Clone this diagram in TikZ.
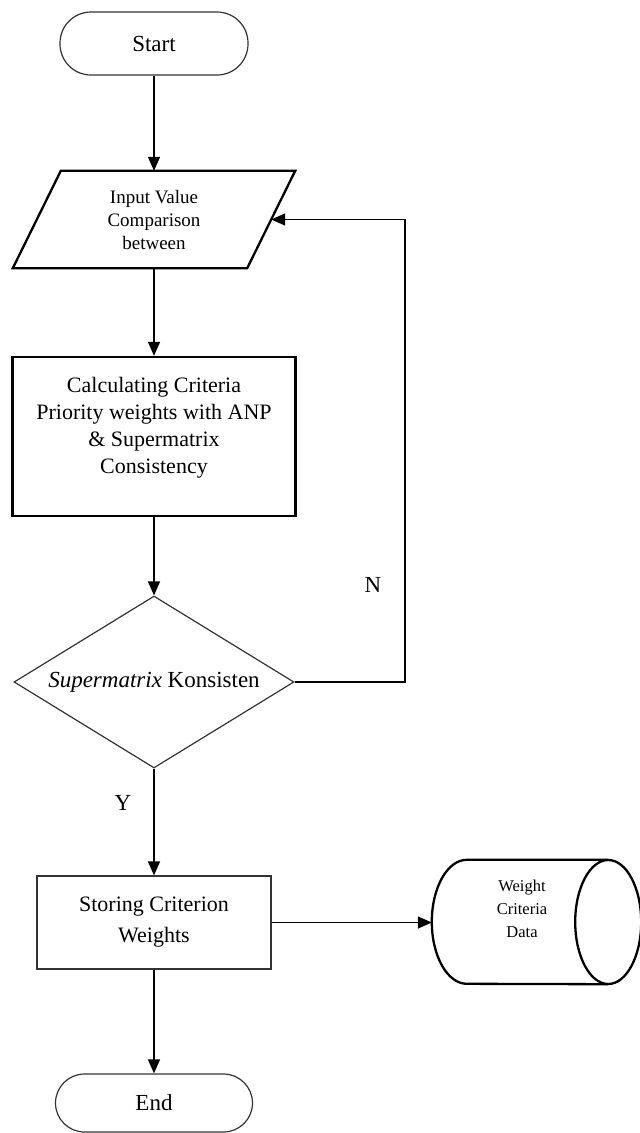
\documentclass[tikz,border=0pt]{standalone}
\usepackage{fontspec}
\setmainfont{Liberation Serif}
\usetikzlibrary{shapes.geometric,arrows.meta,calc}
\begin{document}
\begin{tikzpicture}[x=1pt,y=-1pt,
  thinbox/.style={draw=black!80, line width=1.2pt, fill=white},
  thickbox/.style={draw=black, line width=2.3pt},
  flow/.style={-{Triangle[length=14pt,width=12pt]}, line width=1.4pt},
  lbl/.style={font=\fontsize{23}{27}\selectfont}
]
\useasboundingbox (0,0) rectangle (640,1133);

\node (start) [thinbox, rounded corners=31pt, minimum width=188pt, minimum height=63pt, lbl] at (154,43.5) {Start};

\node (input) [minimum width=234pt, minimum height=97pt, inner sep=0pt, align=center, font=\fontsize{19}{23}\selectfont] at (154,219.5) {Input Value\\Comparison\\between};
\draw[thickbox] ($(input.north west)+(24,0)$) -- ($(input.north east)+(24,0)$) -- ($(input.south east)+(-24,0)$) -- ($(input.south west)+(-24,0)$) -- cycle;

\node (calc) [thickbox, minimum width=283pt, minimum height=159pt] at (154,436.5) {};
\node (calctext) [align=center, font=\fontsize{22}{27}\selectfont] at (154,428) {Calculating Criteria\\Priority weights with ANP\\\& Supermatrix\\Consistency};

\node (dec) [diamond, thinbox, minimum width=280pt, minimum height=172pt, inner sep=0pt, aspect=1.63, lbl] at (154,682) {\textit{Supermatrix} Konsisten};

\node (store) [thinbox, minimum width=234pt, minimum height=93pt, align=center, font=\fontsize{22}{31}\selectfont] at (154,922.5) {Storing Criterion\\Weights};

\node (end) [thinbox, rounded corners=29pt, minimum width=197pt, minimum height=58pt, lbl] at (154,1103) {End};

\node (db) [minimum width=176pt, minimum height=124pt, inner sep=0pt] at (520,922) {};
\draw[thickbox] (db.north east) -- ($(db.north west)+(35,0)$) arc[start angle=90, end angle=270, x radius=35pt, y radius=62pt] -- (db.south east);
\draw[thickbox] (db.east) ellipse [x radius=33pt, y radius=62pt];
\node (dbtext) [align=center, font=\fontsize{16.5}{23}\selectfont] at (522,909) {Weight\\Criteria\\Data};

\coordinate (fb) at (405,682);

\draw[flow] (start) -- (input);
\draw[flow] (input) -- (calc);
\draw[flow] (calc) -- (dec);
\draw[flow] (dec) -- (store);
\draw[flow] (store) -- (end);
\draw[flow] (store.east) -- (store.east -| db.west);
\draw[flow] (dec.east) -- (fb) |- (input.east);

\node (ylab) [lbl] at (123,803) {Y};
\node (nlab) [lbl] at (373,585) {N};
\end{tikzpicture}
\end{document}
